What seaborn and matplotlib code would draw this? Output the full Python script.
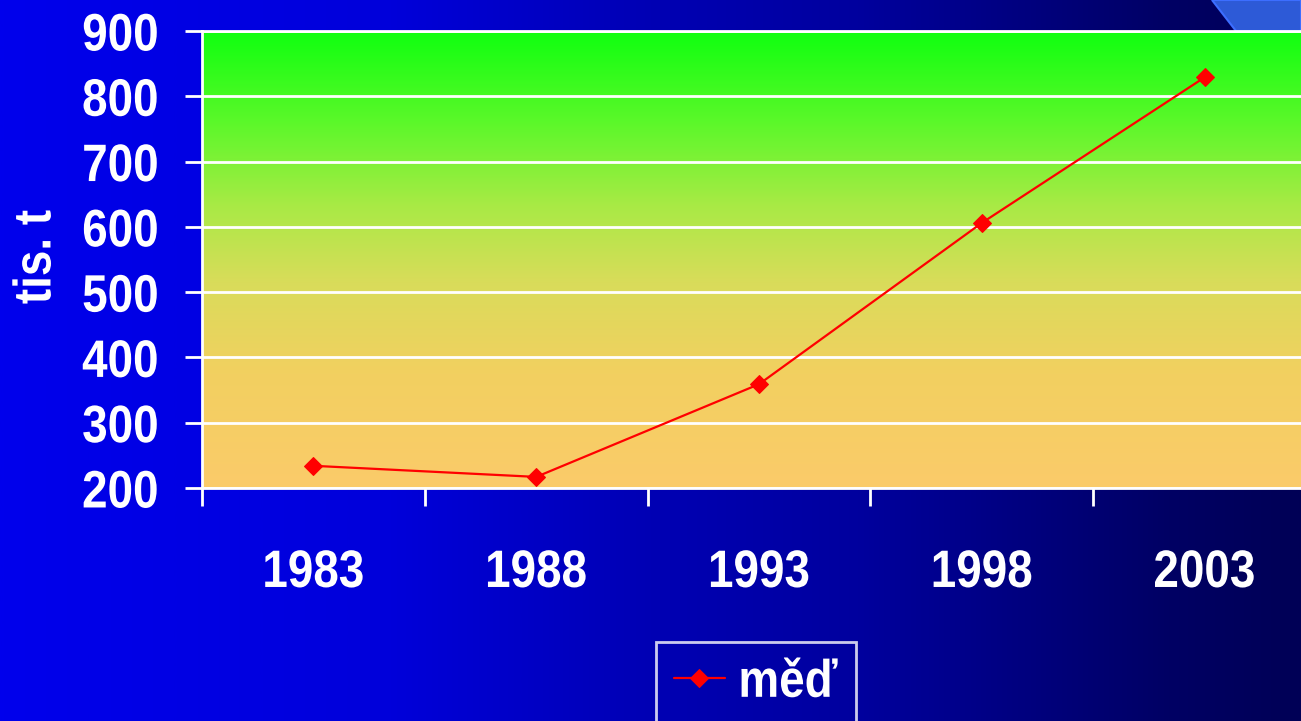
import numpy as np
import pandas as pd
import matplotlib
matplotlib.use("Agg")
import matplotlib.pyplot as plt
from matplotlib.colors import LinearSegmentedColormap
from matplotlib.patches import Polygon
from matplotlib.patheffects import AbstractPathEffect
from matplotlib.transforms import Affine2D
import seaborn as sns

# Copper output (thousand tonnes)
years = ["1983", "1988", "1993", "1998", "2003"]
copper = [234, 217, 359, 606, 829]
y_ticks = [200, 300, 400, 500, 600, 700, 800, 900]
series_name = "měď"
y_title = "tis. t"


class Stretch(AbstractPathEffect):
    """Draw glyphs taller than their natural proportions (condensed look)."""

    def __init__(self, sy=1.15, mid=36.0):
        super().__init__()
        self.sy = sy
        self.mid = mid

    def draw_path(self, renderer, gc, tpath, affine, rgbFace=None):
        pre = Affine2D().translate(0, -self.mid).scale(1.0, self.sy).translate(0, self.mid)
        renderer.draw_path(gc, tpath, pre + affine, rgbFace)


sns.set_theme(style="white")
plt.rcParams["font.family"] = ["Liberation Sans", "DejaVu Sans"]
plt.rcParams["font.weight"] = "bold"
FS = 33
TALL = [Stretch(1.15)]

W, H, DPI = 1301, 721, 100
fig = plt.figure(figsize=(W / DPI, H / DPI), dpi=DPI)

# Slide background: horizontal blue-to-navy gradient
bg = fig.add_axes([0, 0, 1, 1], zorder=-5)
bg_cmap = LinearSegmentedColormap.from_list(
    "slide", [(0.0, (0, 0, 236 / 255)), (0.3, (0, 0, 218 / 255)),
              (0.5, (0, 0, 180 / 255)), (0.66, (0, 0, 158 / 255)),
              (0.9, (0, 0, 100 / 255)), (1.0, (0, 0, 86 / 255))])
bg.imshow(np.linspace(0, 1, 512)[None, :], cmap=bg_cmap, aspect="auto",
          extent=[0, 1, 0, 1], interpolation="bilinear")
# decorative corner shape
bg.add_patch(Polygon([(1212 / W, 1), (1236 / W, 1 - 31 / H), (1, 1 - 31 / H), (1, 1)],
                     closed=True, facecolor="#2D5AD7", edgecolor="#3C6EFF", lw=1.5))
bg.set_xlim(0, 1)
bg.set_ylim(0, 1)
bg.axis("off")

# Chart area
left, bottom = 202 / W, 1 - 488 / H
ax_w = 5 * 222.8 / W
ax_h = (488 - 31) / H
ax = fig.add_axes([left, bottom, ax_w, ax_h])
ax.set_facecolor("none")

plot_cmap = LinearSegmentedColormap.from_list(
    "plot", [(0.0, "#FBCB6A"), (0.25, "#F2D060"), (0.45, "#D9DC5A"),
             (0.62, "#A8EA45"), (0.8, "#5CF82A"), (1.0, "#10FF10")])
ax.imshow(np.linspace(0, 1, 256)[:, None], cmap=plot_cmap, origin="lower",
          aspect="auto", extent=[-0.5, 4.5, 200, 900], zorder=0,
          interpolation="bilinear")

df = pd.DataFrame({"x": np.arange(len(years)), "value": copper, "series": series_name})
sns.lineplot(data=df, x="x", y="value", hue="series", palette=["#FF0000"],
             marker="D", markersize=9, markeredgecolor="#FF0000",
             linewidth=1.6, ax=ax, zorder=5)

ax.set_xlim(-0.5, 4.5)
ax.set_ylim(200, 900)
ax.set_yticks(y_ticks)
ax.set_yticklabels([str(v) for v in y_ticks])
ax.set_xticks(np.arange(len(years)))
ax.set_xticklabels(years)
ax.set_xticks(np.arange(-0.5, 5.0, 1.0), minor=True)

ax.grid(axis="y", color="white", linewidth=2, zorder=2)
ax.grid(axis="x", visible=False)
ax.set_axisbelow(False)

ax.tick_params(axis="y", which="major", direction="out", length=12, width=2,
               color="white", labelcolor="white", labelsize=FS, pad=19, left=True)
ax.tick_params(axis="x", which="major", length=0, labelcolor="white",
               labelsize=FS, pad=45)
ax.tick_params(axis="x", which="minor", direction="out", length=13, width=2,
               color="white", bottom=True)
for lbl in ax.get_xticklabels() + ax.get_yticklabels():
    lbl.set_fontweight("bold")
    lbl.set_path_effects(TALL)

for side in ["left", "bottom", "top"]:
    ax.spines[side].set_visible(True)
    ax.spines[side].set_color("white")
    ax.spines[side].set_linewidth(2)
ax.spines["right"].set_visible(False)

ax.set_xlabel("")
ax.set_ylabel(y_title, color="white", fontsize=FS, fontweight="bold",
              va="center", ha="center", path_effects=TALL)
ax.yaxis.set_label_coords(-(202 - 36) / (ax_w * W), (488 - 257) / (488 - 31))

handles, labels = ax.get_legend_handles_labels()
leg = ax.legend(handles, labels, loc="upper center",
                bbox_to_anchor=(756 / W, 1 - 642 / H), bbox_transform=fig.transFigure,
                frameon=True, fancybox=False, edgecolor="white", facecolor="none",
                fontsize=FS, handlelength=1.1, handletextpad=0.3,
                borderpad=0.4, borderaxespad=0)
leg.get_frame().set_linewidth(2)
for t in leg.get_texts():
    t.set_color("white")
    t.set_fontweight("bold")
    t.set_path_effects(TALL)

fig.savefig("out.png", dpi=DPI)
